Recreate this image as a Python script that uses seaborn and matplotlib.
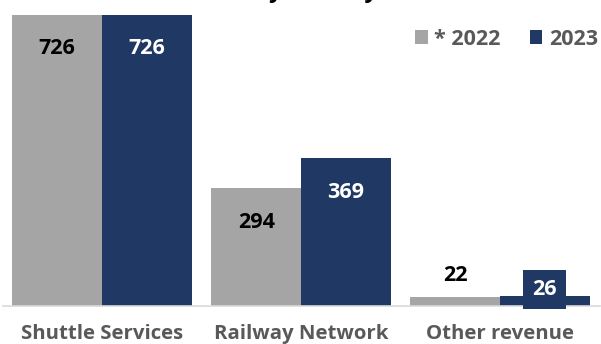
import matplotlib
matplotlib.use("Agg")
import matplotlib.pyplot as plt
import seaborn as sns
import pandas as pd

categories = ["Shuttle Services", "Railway Network", "Other revenue"]
series = ["* 2022", "2023"]
values_2022 = [726, 294, 22]
values_2023 = [726, 369, 26]
title = "Revenue by Activity"

colors = ["#A5A5A5", "#203864"]

df = pd.DataFrame({
    "category": categories * 2,
    "year": [series[0]] * 3 + [series[1]] * 3,
    "value": values_2022 + values_2023,
})

sns.set_theme(style="white")
plt.rcParams["font.family"] = ["Open Sans", "DejaVu Sans"]
plt.rcParams["font.weight"] = "bold"

fig = plt.figure(figsize=(6.01, 3.44), dpi=100)
ax = fig.add_axes([2.5 / 601, 1 - 306 / 344, 597 / 601, 306 / 344])

sns.barplot(data=df, x="category", y="value", hue="year", order=categories,
            hue_order=series, palette=colors, width=0.9, saturation=1,
            ax=ax, legend=True, linewidth=0)

ax.set_ylim(0, 763.4)
ax.set_xlim(-0.5, 2.5)
ax.set_xlabel("")
ax.set_ylabel("")
ax.set_yticks([])
for s in ["top", "right", "left"]:
    ax.spines[s].set_visible(False)
ax.spines["bottom"].set_color("#D9D9D9")
ax.spines["bottom"].set_linewidth(1.2)
ax.tick_params(axis="x", length=0, pad=13, labelsize=14.7, labelcolor="#595959")
for lbl in ax.get_xticklabels():
    lbl.set_fontweight("bold")

# value labels
for ci, cont in enumerate(ax.containers):
    for bi, bar in enumerate(cont):
        v = [values_2022, values_2023][ci][bi]
        x = bar.get_x() + bar.get_width() / 2
        top = bar.get_height()
        tcolor = "black" if ci == 0 else "white"
        if v > 100:
            ax.annotate(f"{v}", (x, top), xytext=(0, -34), textcoords="offset pixels",
                        ha="center", va="center", fontsize=15.5, fontweight="bold", color=tcolor)
        elif ci == 0:
            ax.annotate(f"{v}", (x, top), xytext=(0, 22), textcoords="offset pixels",
                        ha="center", va="center", fontsize=15.5, fontweight="bold", color="black")
        else:
            ax.annotate(f"{v}", (x, top), xytext=(0, 6), textcoords="offset pixels",
                        ha="center", va="center", fontsize=15.5, fontweight="bold", color="white",
                        bbox=dict(boxstyle="square,pad=0.42", fc=colors[1], ec="none"))

leg = ax.legend(loc="upper right", bbox_to_anchor=(0.9975, 0.906), ncol=2, frameon=False,
                borderaxespad=0, borderpad=0,
                handlelength=0.6, handleheight=0.6, handletextpad=0.3, columnspacing=1.35,
                prop={"size": 15.5, "weight": "bold"})
for t in leg.get_texts():
    t.set_color("#595959")

# title, mostly above the top edge (only the descenders show, as in the source)
renderer = fig.canvas.get_renderer()

def text_w(s, size):
    t = fig.text(0, 0, s, fontsize=size, fontweight="bold")
    w = t.get_window_extent(renderer).width
    t.remove()
    return w

size = 18
for _ in range(2):
    y1 = text_w("Revenue b", size) + text_w("y", size) / 2
    y2 = text_w("Revenue by Activit", size) + text_w("y", size) / 2
    size = size * 95 / (y2 - y1)
y1 = text_w("Revenue b", size) + text_w("y", size) / 2
left_px = 276 - y1
fig.text(left_px / 601, 1.0 + 3 / 344, title, ha="left", va="baseline",
         fontsize=size, fontweight="bold", color="black")

fig.savefig("out.png", dpi=100)
